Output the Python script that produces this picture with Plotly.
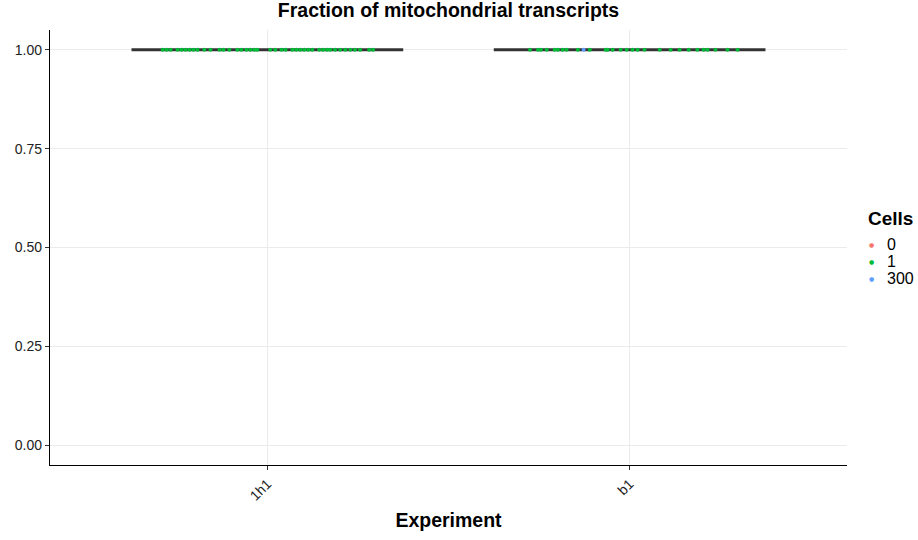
import plotly.graph_objects as go

# ---- data ----
experiments = ["1h1", "b1"]
fraction_mito = [1.0, 1.0]          # all cells have value 1.0 -> flat violins
violin_halfwidth = 0.375

# jittered point offsets (in category units)
jitter_1h1 = [-0.289, -0.278, -0.267, -0.248, -0.237, -0.226, -0.215, -0.204, -0.193,
              -0.174, -0.157, -0.132, -0.121, -0.105, -0.083, -0.072, -0.058, -0.047,
              -0.036, -0.028, 0.008, 0.022, 0.039, 0.050, 0.069, 0.080, 0.091, 0.102,
              0.113, 0.124, 0.143, 0.154, 0.165, 0.174, 0.187, 0.201, 0.215, 0.229,
              0.242, 0.256, 0.281, 0.292]
jitter_b1 = [-0.275, -0.253, -0.245, -0.229, -0.207, -0.198, -0.185, -0.174, -0.143,
             -0.110, -0.066, -0.061, -0.047, -0.025, -0.008, 0.008, 0.022, 0.041,
             0.083, 0.113, 0.138, 0.163, 0.187, 0.204, 0.215, 0.237, 0.270, 0.298]
jitter_b1_blue = [-0.127]

cells_labels = ["0", "1", "300"]
cells_colors = ["#F8766D", "#00BA38", "#619CFF"]

fig = go.Figure()

# flattened violins (drawn as thick horizontal lines)
for i, (exp, val) in enumerate(zip(experiments, fraction_mito)):
    fig.add_trace(go.Scatter(
        x=[i - violin_halfwidth, i + violin_halfwidth], y=[val, val],
        mode="lines", line=dict(color="#333333", width=3),
        showlegend=False, hoverinfo="skip"))

# jittered points
fig.add_trace(go.Scatter(
    x=[0 + j for j in jitter_1h1] + [1 + j for j in jitter_b1],
    y=[fraction_mito[0]] * len(jitter_1h1) + [fraction_mito[1]] * len(jitter_b1),
    mode="markers", marker=dict(color=cells_colors[1], size=4),
    showlegend=False))
fig.add_trace(go.Scatter(
    x=[1 + j for j in jitter_b1_blue], y=[fraction_mito[1]] * len(jitter_b1_blue),
    mode="markers", marker=dict(color=cells_colors[2], size=4),
    showlegend=False))

font = "Liberation Sans, Arial, sans-serif"

# custom compact legend (container coordinates)
W, H = 918, 540
annotations = [dict(text="<b>Cells</b>", x=866 / W, y=1 - 218 / H, xref="paper", yref="paper",
                    xanchor="left", yanchor="middle", showarrow=False,
                    font=dict(size=19, color="black", family=font))]
for k, (lab, col) in enumerate(zip(cells_labels, cells_colors)):
    yy = 245 + k * 16.6
    annotations.append(dict(text="●", x=871 / W, y=1 - yy / H, xref="paper", yref="paper",
                            xanchor="center", yanchor="middle", showarrow=False,
                            font=dict(size=6, color=col, family="DejaVu Sans")))
    annotations.append(dict(text=lab, x=885 / W, y=1 - yy / H, xref="paper", yref="paper",
                            xanchor="left", yanchor="middle", showarrow=False,
                            font=dict(size=16, color="black", family=font)))
# convert fractions of the full figure into paper fractions of the plot area
L, R, T, B = 50, 71, 30, 75
pw, ph = W - L - R, H - T - B
for a in annotations:
    a["x"] = (a["x"] * W - L) / pw
    a["y"] = ((a["y"] * H) - B) / ph

fig.update_layout(
    width=W, height=H,
    paper_bgcolor="white", plot_bgcolor="white",
    margin=dict(l=L, r=R, t=T, b=B),
    title=dict(text="<b>Fraction of mitochondrial transcripts</b>", x=0.5, xref="paper",
               xanchor="center", y=1 - 10 / H, yref="container", yanchor="middle",
               font=dict(size=19.5, color="black", family=font)),
    font=dict(family=font, color="black"),
    showlegend=False,
    annotations=annotations,
    xaxis=dict(
        tickmode="array", tickvals=list(range(len(experiments))), ticktext=experiments,
        range=[-0.6, 1.6], tickangle=-45,
        showline=True, linecolor="black", linewidth=1.3,
        ticks="outside", ticklen=4, tickcolor="#333333",
        showgrid=True, gridcolor="#EBEBEB", gridwidth=1, zeroline=False,
        tickfont=dict(size=14, color="#222222"),
        title=dict(text="<b>Experiment</b>", font=dict(size=19.5, color="black"), standoff=10),
    ),
    yaxis=dict(
        range=[-0.05, 1.05], tickvals=[0, 0.25, 0.5, 0.75, 1.0],
        ticktext=["0.00", "0.25", "0.50", "0.75", "1.00"],
        showline=True, linecolor="black", linewidth=1.3,
        ticks="outside", ticklen=4, tickcolor="#333333",
        showgrid=True, gridcolor="#EBEBEB", gridwidth=1, zeroline=False,
        tickfont=dict(size=14, color="#222222"),
    ),
)

fig.write_html("out.html", config={"displayModeBar": False},
               post_script="document.body.style.margin='0px';")
